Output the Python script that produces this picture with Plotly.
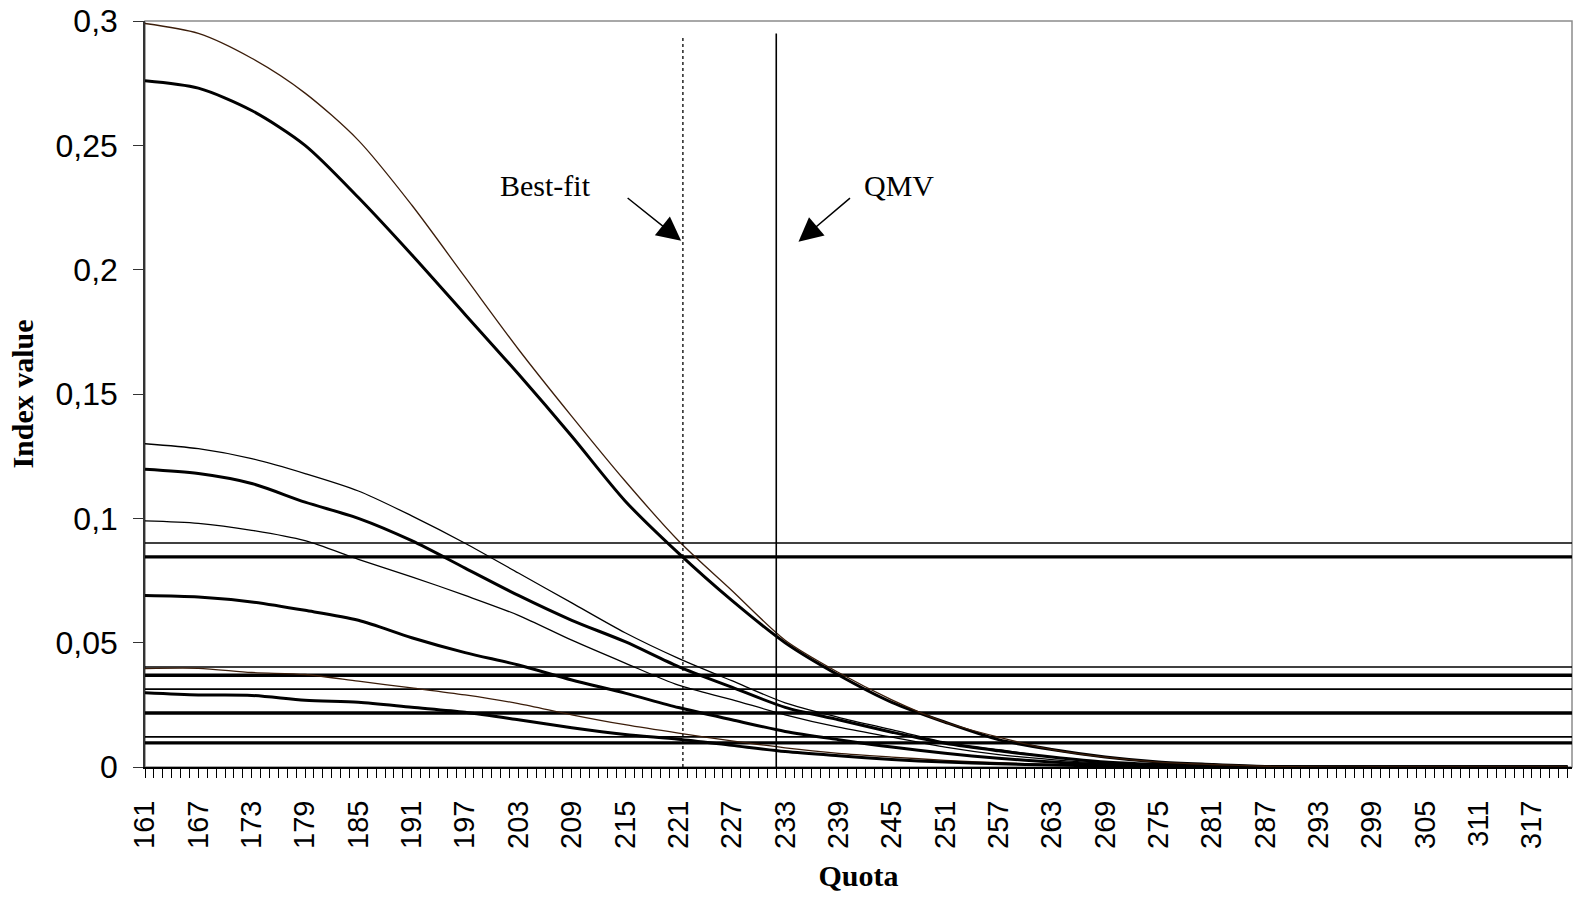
import plotly.graph_objects as go

# ---------------- data ----------------
QUOTA = [161, 167, 173, 179, 185, 191, 197, 203, 209, 215, 221, 227, 233, 239,
         245, 251, 257, 263, 269, 275, 281, 287, 293, 299, 305, 311, 317, 321]

# index curves (thin / thick pairs)
curve_a_thin = [0.299, 0.295, 0.285, 0.271, 0.252, 0.226, 0.197, 0.168, 0.141, 0.115,
                0.091, 0.071, 0.051, 0.038, 0.027, 0.018, 0.012, 0.007, 0.004, 0.002,
                0.001, 0.0003, 0, 0, 0, 0, 0, 0]
curve_a_thick = [0.276, 0.273, 0.264, 0.250, 0.229, 0.206, 0.182, 0.158, 0.133, 0.107,
                 0.086, 0.067, 0.050, 0.037, 0.026, 0.018, 0.011, 0.007, 0.004, 0.002,
                 0.001, 0.0002, 0, 0, 0, 0, 0, 0]
curve_b_thin = [0.130, 0.128, 0.124, 0.118, 0.111, 0.101, 0.090, 0.078, 0.066, 0.054,
                0.0437, 0.0347, 0.0258, 0.020, 0.015, 0.010, 0.007, 0.004, 0.002, 0.001,
                0.0003, 0, 0, 0, 0, 0, 0, 0]
curve_b_thick = [0.1197, 0.118, 0.114, 0.1065, 0.100, 0.091, 0.080, 0.069, 0.059, 0.0504,
                 0.0404, 0.0321, 0.024, 0.019, 0.014, 0.0095, 0.0065, 0.004, 0.002, 0.001,
                 0.0003, 0, 0, 0, 0, 0, 0, 0]
curve_c_thin = [0.099, 0.098, 0.0952, 0.091, 0.0835, 0.0765, 0.069, 0.061, 0.051, 0.0418,
                0.0329, 0.0271, 0.021, 0.016, 0.012, 0.008, 0.005, 0.003, 0.0015, 0.0007,
                0.0002, 0, 0, 0, 0, 0, 0, 0]
curve_c_thick = [0.069, 0.0684, 0.0664, 0.063, 0.059, 0.052, 0.046, 0.041, 0.035, 0.0297,
                 0.0239, 0.019, 0.0143, 0.011, 0.008, 0.0055, 0.0035, 0.002, 0.001, 0.0005,
                 0.0001, 0, 0, 0, 0, 0, 0, 0]
curve_d_thin = [0.0396, 0.0397, 0.038, 0.0372, 0.0345, 0.0318, 0.029, 0.0255, 0.021, 0.017,
                0.0136, 0.0105, 0.0077, 0.0055, 0.004, 0.0027, 0.0017, 0.001, 0.0005, 0.0002,
                0, 0, 0, 0, 0, 0, 0, 0]
curve_d_thick = [0.0299, 0.029, 0.0288, 0.0268, 0.026, 0.024, 0.022, 0.019, 0.0158, 0.0131,
                 0.0112, 0.0087, 0.0062, 0.0045, 0.003, 0.002, 0.0013, 0.0008, 0.0004, 0.0002,
                 0, 0, 0, 0, 0, 0, 0, 0]

# target levels (horizontal lines)
target_thin = [0.0901, 0.0402, 0.0313, 0.0121]
target_thick = [0.0845, 0.0369, 0.0217, 0.0097]

BEST_FIT = 221.5
QMV = 232
BEST_FIT_TOP = 0.2935
QMV_TOP = 0.2950
X_MIN, X_MAX = 161, 321.5

Y_TICKS = [0, 0.05, 0.1, 0.15, 0.2, 0.25, 0.3]
Y_TICKTEXT = ["0", "0,05", "0,1", "0,15", "0,2", "0,25", "0,3"]

# ---------------- figure ----------------
BROWN = "#3b1d0a"
fig = go.Figure()

# horizontal target lines
for v in target_thin:
    fig.add_trace(go.Scatter(x=[X_MIN, X_MAX], y=[v, v], mode="lines",
                             line=dict(color="black", width=1.6), hoverinfo="skip"))
for v in target_thick:
    fig.add_trace(go.Scatter(x=[X_MIN, X_MAX], y=[v, v], mode="lines",
                             line=dict(color="black", width=3.4), hoverinfo="skip"))

curves = [
    (curve_d_thin, BROWN, 1.3),
    (curve_d_thick, "black", 3.0),
    (curve_c_thin, "black", 1.3),
    (curve_c_thick, "black", 3.0),
    (curve_b_thin, "black", 1.3),
    (curve_b_thick, "black", 3.0),
    (curve_a_thick, "black", 3.0),
    (curve_a_thin, BROWN, 1.3),
]
for ys, col, w in curves:
    fig.add_trace(go.Scatter(x=QUOTA, y=ys, mode="lines",
                             line=dict(color=col, width=w, shape="spline", smoothing=0.8)))

# plot area border (grey) and vertical reference lines
fig.add_shape(type="rect", xref="x domain", yref="y domain", x0=0, x1=1, y0=0, y1=1,
              line=dict(color="#8c8c8c", width=1.5), layer="below")
fig.add_shape(type="line", x0=BEST_FIT, x1=BEST_FIT, y0=0, y1=BEST_FIT_TOP,
              line=dict(color="black", width=1.3, dash="dot"))
fig.add_shape(type="line", x0=QMV, x1=QMV, y0=0, y1=QMV_TOP,
              line=dict(color="black", width=1.6))

SERIF = "Liberation Serif, Times New Roman, serif"
# labels
fig.add_annotation(x=BEST_FIT - 15.5, y=0.234, text="Best-fit", showarrow=False,
                   font=dict(family=SERIF, size=30, color="black"))
fig.add_annotation(x=QMV + 13.8, y=0.234, text="QMV", showarrow=False,
                   font=dict(family=SERIF, size=30, color="black"))
# arrows
fig.add_annotation(x=BEST_FIT - 0.2, y=0.2116, ax=-55, ay=-44, text="", showarrow=True,
                   arrowhead=2, arrowsize=3.2, arrowwidth=1.5, arrowcolor="black")
fig.add_annotation(x=QMV + 2.5, y=0.2112, ax=53, ay=-45, text="", showarrow=True,
                   arrowhead=2, arrowsize=3.2, arrowwidth=1.5, arrowcolor="black")

fig.update_layout(
    width=1574, height=897,
    margin=dict(l=145, r=2, t=21, b=130),
    paper_bgcolor="white", plot_bgcolor="white",
    showlegend=False,
    separators=",.",
    font=dict(family="Liberation Sans, Arial, sans-serif", color="black"),
)
fig.update_xaxes(
    range=[X_MIN, X_MAX], tick0=161, dtick=6, tickmode="linear",
    ticks="outside", ticklen=9, tickwidth=1, tickcolor="black",
    minor=dict(dtick=1, tick0=161, ticks="outside", ticklen=9, tickwidth=1, tickcolor="black"),
    tickangle=-90, tickfont=dict(size=29, family="Liberation Sans, Arial, sans-serif"),
    ticklabelstandoff=11,
    showline=True, linecolor="black", linewidth=2,
    showgrid=False, zeroline=False, automargin=False,
    title=dict(text="<b>Quota</b>", font=dict(family=SERIF, size=30), standoff=17),
)
fig.update_yaxes(
    range=[0, 0.3], tickvals=Y_TICKS, ticktext=Y_TICKTEXT,
    ticks="outside", ticklen=10, tickwidth=1, tickcolor="#333333",
    tickfont=dict(size=32, family="Liberation Sans, Arial, sans-serif"),
    ticklabelstandoff=9,
    showline=True, linecolor="#333333", linewidth=1.5,
    showgrid=False, zeroline=False, automargin=False,
    title=dict(text="<b>Index value</b>", font=dict(family=SERIF, size=30), standoff=13),
)

# remove the default page margin so the figure fills the window exactly
fig.write_html("out.html",
               config={"displayModeBar": False},
               post_script="document.body.style.margin='0';document.body.style.overflow='hidden';")
